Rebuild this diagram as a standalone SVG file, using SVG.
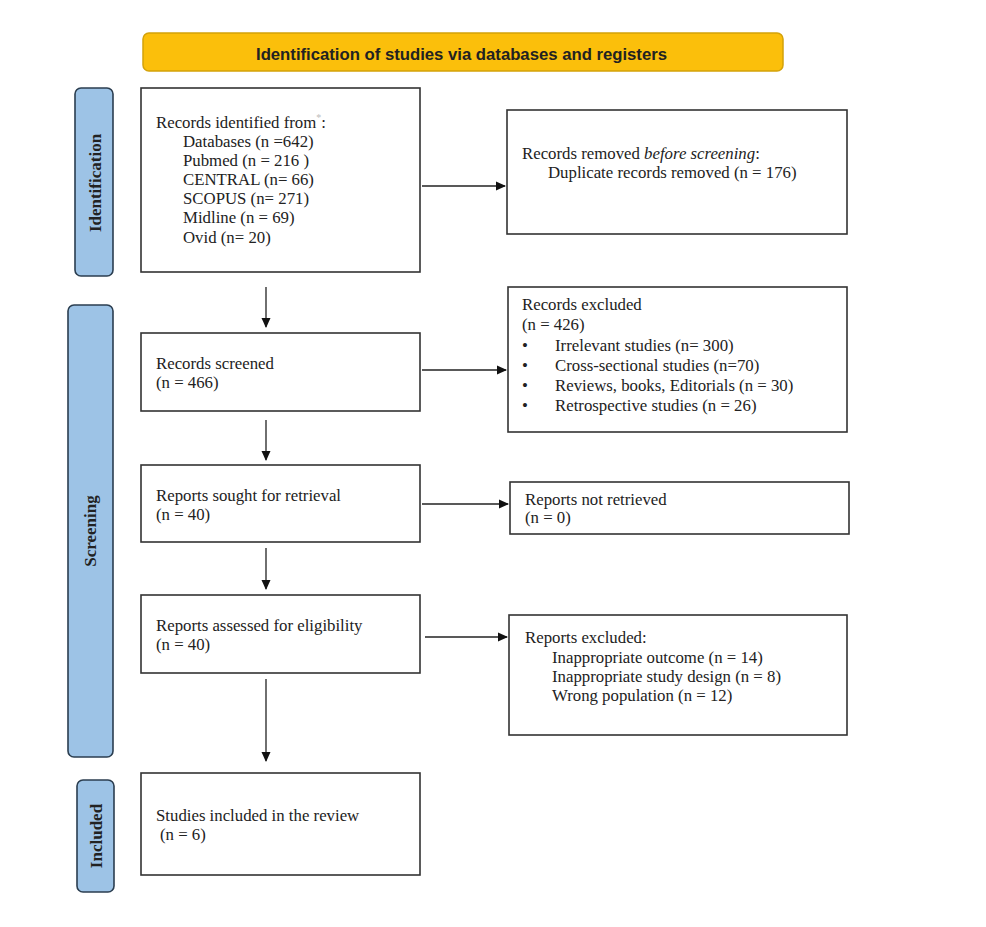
<svg xmlns="http://www.w3.org/2000/svg" width="986" height="927" viewBox="0 0 986 927">
<style>
.box{fill:#fff;stroke:#333;stroke-width:1.6}
.side{fill:#9DC3E6;stroke:#2B3E50;stroke-width:1.6}
.t{font-family:"Liberation Serif","Times New Roman",serif;font-size:16.8px;fill:#222}
.st{font-family:"Liberation Serif","Times New Roman",serif;font-size:17px;font-weight:bold;fill:#222}
.c{stroke:#222;stroke-width:1.3;fill:none;marker-end:url(#ah)}
</style>
<defs>
<marker id="ah" markerWidth="10" markerHeight="10" refX="9" refY="5" orient="auto" markerUnits="userSpaceOnUse">
<path d="M0,0.5 L10,5 L0,9.5 Z" fill="#111"/>
</marker>
</defs>
<rect width="986" height="927" fill="#fff"/>
<g id="title">
<rect x="143" y="33" width="640" height="38" rx="6" fill="#FBBF0B" stroke="#D4A20A" stroke-width="1.5"/>
<text x="461.5" y="60" text-anchor="middle" font-family="'Liberation Sans',Arial,sans-serif" font-size="16" font-weight="bold" fill="#222" textLength="411" lengthAdjust="spacingAndGlyphs">Identification of studies via databases and registers</text>
</g>
<g id="side-identification">
<rect class="side" x="75" y="88" width="38" height="188" rx="6"/>
<text class="st" transform="translate(101,183) rotate(-90)" text-anchor="middle">Identification</text>
</g>
<g id="side-screening">
<rect class="side" x="68" y="305" width="45" height="452" rx="6"/>
<text class="st" transform="translate(96,531) rotate(-90)" text-anchor="middle">Screening</text>
</g>
<g id="side-included">
<rect class="side" x="77" y="780" width="37" height="112" rx="6"/>
<text class="st" transform="translate(102,836) rotate(-90)" text-anchor="middle">Included</text>
</g>
<g id="records-identified">
<rect class="box" x="141" y="88" width="279" height="184"/>
<text class="t" x="156" y="128">Records identified from<tspan font-size="10" dy="-7" fill="#bbb">*</tspan><tspan dy="7">:</tspan></text>
<text class="t" x="183" y="147">Databases (n =642)</text>
<text class="t" x="183" y="166">Pubmed (n = 216 )</text>
<text class="t" x="183" y="185">CENTRAL (n= 66)</text>
<text class="t" x="183" y="204">SCOPUS (n= 271)</text>
<text class="t" x="183" y="223">Midline (n = 69)</text>
<text class="t" x="183" y="243">Ovid (n= 20)</text>
</g>
<g id="records-removed">
<rect class="box" x="507" y="110" width="340" height="124"/>
<text class="t" x="522" y="159">Records removed <tspan font-style="italic">before screening</tspan>:</text>
<text class="t" x="548" y="178">Duplicate records removed (n = 176)</text>
</g>
<g id="records-screened">
<rect class="box" x="141" y="333" width="279" height="78"/>
<text class="t" x="156" y="369">Records screened</text>
<text class="t" x="156" y="388">(n = 466)</text>
</g>
<g id="records-excluded">
<rect class="box" x="508" y="287" width="339" height="145"/>
<text class="t" x="522" y="310">Records excluded</text>
<text class="t" x="522" y="330">(n = 426)</text>
<text class="t" x="522" y="351">•</text><text class="t" x="555" y="351">Irrelevant studies (n= 300)</text>
<text class="t" x="522" y="371">•</text><text class="t" x="555" y="371">Cross-sectional studies (n=70)</text>
<text class="t" x="522" y="391">•</text><text class="t" x="555" y="391">Reviews, books, Editorials (n = 30)</text>
<text class="t" x="522" y="411">•</text><text class="t" x="555" y="411">Retrospective studies (n = 26)</text>
</g>
<g id="reports-sought">
<rect class="box" x="141" y="465" width="279" height="77"/>
<text class="t" x="156" y="501">Reports sought for retrieval</text>
<text class="t" x="156" y="520">(n = 40)</text>
</g>
<g id="reports-not-retrieved">
<rect class="box" x="510" y="482" width="339" height="52"/>
<text class="t" x="525" y="505">Reports not retrieved</text>
<text class="t" x="525" y="523">(n = 0)</text>
</g>
<g id="reports-assessed">
<rect class="box" x="141" y="595" width="279" height="78"/>
<text class="t" x="156" y="631">Reports assessed for eligibility</text>
<text class="t" x="156" y="650">(n = 40)</text>
</g>
<g id="reports-excluded">
<rect class="box" x="509" y="615" width="338" height="120"/>
<text class="t" x="525" y="643">Reports excluded:</text>
<text class="t" x="552" y="663">Inappropriate outcome (n = 14)</text>
<text class="t" x="552" y="682">Inappropriate study design (n = 8)</text>
<text class="t" x="552" y="701">Wrong population (n = 12)</text>
</g>
<g id="studies-included">
<rect class="box" x="141" y="773" width="279" height="102"/>
<text class="t" x="156" y="821">Studies included in the review</text>
<text class="t" x="160" y="840">(n = 6)</text>
</g>
<g id="connectors">
<line class="c" x1="422" y1="186" x2="505" y2="186"/>
<line class="c" x1="422" y1="370" x2="506" y2="370"/>
<line class="c" x1="422" y1="504" x2="508" y2="504"/>
<line class="c" x1="425" y1="637" x2="507" y2="637"/>
<line class="c" x1="266" y1="287" x2="266" y2="327"/>
<line class="c" x1="266" y1="420" x2="266" y2="460"/>
<line class="c" x1="266" y1="548" x2="266" y2="589"/>
<line class="c" x1="266" y1="679" x2="266" y2="761"/>
</g>
</svg>
